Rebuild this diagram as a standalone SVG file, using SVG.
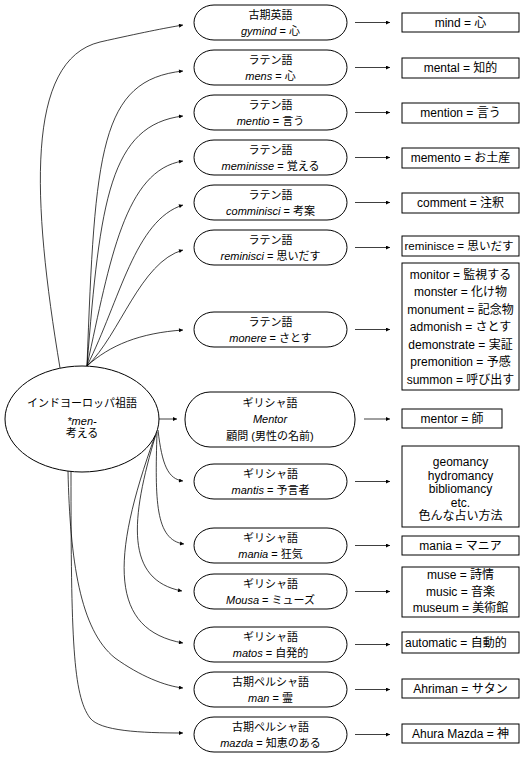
<svg xmlns="http://www.w3.org/2000/svg" width="532" height="777" viewBox="0 0 532 777">
<style>
text { font-family: "Liberation Sans", "Noto Sans CJK JP", sans-serif; font-size: 12px; fill: #000; text-anchor: middle; }
.s { font-size: 11px; }
.i { font-style: italic; }
.l { text-anchor: start; }
.node { fill: #fff; stroke: #000; stroke-width: 1; }
.box { fill: #fff; stroke: #000; stroke-width: 1; }
.c { fill: none; stroke: #000; stroke-width: 0.75; marker-end: url(#ah); }
</style>
<defs>
<marker id="ah" viewBox="0 0 10 10" refX="10" refY="5" markerWidth="5" markerHeight="4" markerUnits="userSpaceOnUse" orient="auto">
<path d="M0,0 L10,5 L0,10 z" fill="#000"/>
</marker>
</defs>
<rect width="532" height="777" fill="#fff"/>
<g id="connectors">
<path class="c" d="M60,368 C32,200 25,60 100,42 C140,33 165,28 183,25"/>
<path class="c" d="M87,366 C95,150 100,80 183,71"/>
<path class="c" d="M87,366 C100,200 110,125 183,116"/>
<path class="c" d="M87,366 C110,260 125,170 183,161"/>
<path class="c" d="M87,366 C120,300 135,220 183,205"/>
<path class="c" d="M87,366 C120,335 140,262 183,250"/>
<path class="c" d="M87,366 C110,345 140,333 183,330"/>
<path class="c" d="M159,419 L177,419"/>
<path class="c" d="M158,430 C162,465 168,479 183,481"/>
<path class="c" d="M157,432 C155,500 155,540 184,544"/>
<path class="c" d="M156,434 C130,520 125,580 182,591"/>
<path class="c" d="M155,436 C110,560 110,630 183,643"/>
<path class="c" d="M68,471 C70,560 80,630 115,658 C140,676 165,686 183,688"/>
<path class="c" d="M71,471 C71,640 73,695 90,718 C100,731 140,733 183,733"/>
<path class="c" d="M355,22.5 L390,22.5"/>
<path class="c" d="M355,67.5 L390,67.5"/>
<path class="c" d="M355,112.5 L390,112.5"/>
<path class="c" d="M355,157.5 L390,157.5"/>
<path class="c" d="M355,202.5 L390,202.5"/>
<path class="c" d="M355,247.5 L390,247.5"/>
<path class="c" d="M355,329.5 L390,329.5"/>
<path class="c" d="M364,419 L390,419"/>
<path class="c" d="M355,481.5 L390,481.5"/>
<path class="c" d="M355,545.5 L390,545.5"/>
<path class="c" d="M355,591.5 L390,591.5"/>
<path class="c" d="M355,644.5 L390,644.5"/>
<path class="c" d="M355,689.5 L390,689.5"/>
<path class="c" d="M355,734.5 L390,734.5"/>
</g>
<g id="root">
<ellipse class="node" cx="82" cy="419" rx="77" ry="53"/>
<text x="82" y="406.5" class="s">インドヨーロッパ祖語</text>
<text x="82" y="424.5" class="s i">*men-</text>
<text x="82" y="437" class="s">考える</text>
</g>
<g id="n1"><rect class="node" x="194" y="5" width="153" height="35" rx="20" ry="17.5"/><text x="270.5" y="18.5" class="s">古期英語</text><text x="270.5" y="34.5" class="s"><tspan class="i">gymind</tspan> = 心</text></g>
<g id="n2"><rect class="node" x="194" y="50" width="153" height="35" rx="20" ry="17.5"/><text x="270.5" y="63.5" class="s">ラテン語</text><text x="270.5" y="79.5" class="s"><tspan class="i">mens</tspan> = 心</text></g>
<g id="n3"><rect class="node" x="194" y="95" width="153" height="35" rx="20" ry="17.5"/><text x="270.5" y="108.5" class="s">ラテン語</text><text x="270.5" y="124.5" class="s"><tspan class="i">mentio</tspan> = 言う</text></g>
<g id="n4"><rect class="node" x="194" y="140" width="153" height="35" rx="20" ry="17.5"/><text x="270.5" y="153.5" class="s">ラテン語</text><text x="270.5" y="169.5" class="s"><tspan class="i">meminisse</tspan> = 覚える</text></g>
<g id="n5"><rect class="node" x="194" y="185" width="153" height="35" rx="20" ry="17.5"/><text x="270.5" y="198.5" class="s">ラテン語</text><text x="270.5" y="214.5" class="s"><tspan class="i">comminisci</tspan> = 考案</text></g>
<g id="n6"><rect class="node" x="194" y="230" width="153" height="35" rx="20" ry="17.5"/><text x="270.5" y="243.5" class="s">ラテン語</text><text x="270.5" y="259.5" class="s"><tspan class="i">reminisci</tspan> = 思いだす</text></g>
<g id="n7"><rect class="node" x="194" y="312" width="153" height="35" rx="20" ry="17.5"/><text x="270.5" y="325.5" class="s">ラテン語</text><text x="270.5" y="341.5" class="s"><tspan class="i">monere</tspan> = さとす</text></g>
<g id="n8"><rect class="node" x="185" y="392" width="170" height="55" rx="25" ry="27"/><text x="270" y="406.5" class="s">ギリシャ語</text><text x="270" y="422.5" class="s i">Mentor</text><text x="270" y="439.5" class="s">顧問 (男性の名前)</text></g>
<g id="n9"><rect class="node" x="194" y="464" width="153" height="35" rx="20" ry="17.5"/><text x="270.5" y="477.5" class="s">ギリシャ語</text><text x="270.5" y="493.5" class="s"><tspan class="i">mantis</tspan> = 予言者</text></g>
<g id="n10"><rect class="node" x="194" y="528" width="153" height="35" rx="20" ry="17.5"/><text x="270.5" y="541.5" class="s">ギリシャ語</text><text x="270.5" y="557.5" class="s"><tspan class="i">mania</tspan> = 狂気</text></g>
<g id="n11"><rect class="node" x="194" y="574" width="153" height="35" rx="20" ry="17.5"/><text x="270.5" y="587.5" class="s">ギリシャ語</text><text x="270.5" y="603.5" class="s"><tspan class="i">Mousa</tspan> = ミューズ</text></g>
<g id="n12"><rect class="node" x="194" y="627" width="153" height="35" rx="20" ry="17.5"/><text x="270.5" y="640.5" class="s">ギリシャ語</text><text x="270.5" y="656.5" class="s"><tspan class="i">matos</tspan> = 自発的</text></g>
<g id="n13"><rect class="node" x="194" y="672" width="153" height="35" rx="20" ry="17.5"/><text x="270.5" y="685.5" class="s">古期ペルシャ語</text><text x="270.5" y="701.5" class="s"><tspan class="i">man</tspan> = 霊</text></g>
<g id="n14"><rect class="node" x="194" y="717" width="153" height="35" rx="20" ry="17.5"/><text x="270.5" y="730.5" class="s">古期ペルシャ語</text><text x="270.5" y="746.5" class="s"><tspan class="i">mazda</tspan> = 知恵のある</text></g>
<g id="b1"><rect class="box" x="402" y="13" width="117" height="19"/><text x="460.5" y="26.5">mind = 心</text></g>
<g id="b2"><rect class="box" x="402" y="58" width="117" height="20"/><text x="460.5" y="72">mental = 知的</text></g>
<g id="b3"><rect class="box" x="402" y="103" width="117" height="20"/><text x="460.5" y="117">mention = 言う</text></g>
<g id="b4"><rect class="box" x="402" y="148" width="117" height="20"/><text x="460.5" y="162">memento = お土産</text></g>
<g id="b5"><rect class="box" x="402" y="193" width="117" height="20"/><text x="460.5" y="207">comment = 注釈</text></g>
<g id="b6"><rect class="box" x="402" y="236" width="117" height="20"/><text x="404.5" y="250" class="l" style="font-size:11.6px">reminisce = 思いだす</text></g>
<g id="b7"><rect class="box" x="402" y="263" width="117" height="127"/>
<text x="460.5" y="278.5">monitor = 監視する</text>
<text x="460.5" y="296">monster = 化け物</text>
<text x="460.5" y="313.5">monument = 記念物</text>
<text x="460.5" y="331">admonish = さとす</text>
<text x="460.5" y="348.5">demonstrate = 実証</text>
<text x="460.5" y="366">premonition = 予感</text>
<text x="460.5" y="383.5">summon = 呼び出す</text>
</g>
<g id="b8"><rect class="box" x="402" y="409" width="100" height="19"/><text x="452" y="422.5">mentor = 師</text></g>
<g id="b9"><rect class="box" x="402" y="446" width="117" height="81"/>
<text x="460.5" y="466">geomancy</text>
<text x="460.5" y="479.5">hydromancy</text>
<text x="460.5" y="493">bibliomancy</text>
<text x="460.5" y="506.5">etc.</text>
<text x="460.5" y="520">色んな占い方法</text>
</g>
<g id="b10"><rect class="box" x="402" y="536" width="117" height="19"/><text x="460.5" y="549.5">mania = マニア</text></g>
<g id="b11"><rect class="box" x="402" y="567" width="117" height="50"/>
<text x="460.5" y="579">muse = 詩情</text>
<text x="460.5" y="595.5">music = 音楽</text>
<text x="460.5" y="612">museum = 美術館</text>
</g>
<g id="b12"><rect class="box" x="402" y="632" width="117" height="21"/><text x="405" y="646.5" class="l">automatic = 自動的</text></g>
<g id="b13"><rect class="box" x="402" y="679" width="117" height="19"/><text x="460.5" y="692.5">Ahriman = サタン</text></g>
<g id="b14"><rect class="box" x="402" y="724" width="117" height="19"/><text x="460.5" y="737.5">Ahura Mazda = 神</text></g>
</svg>
